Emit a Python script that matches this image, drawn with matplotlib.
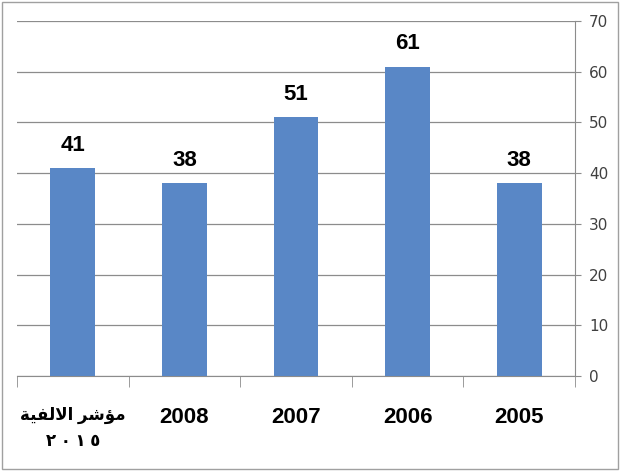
import matplotlib
import matplotlib.pyplot as plt
from matplotlib.patches import Rectangle

matplotlib.use("Agg")

# data
categories = ["ﺔﻴﻔﻟﻻﺍ ﺮﺷﺆﻣ\n٢ ٠ ١ ٥", "2008", "2007", "2006", "2005"]
values = [41, 38, 51, 61, 38]
yticks = [0, 10, 20, 30, 40, 50, 60, 70]

bar_color = "#5987c6"
grid_color = "#8c8c8c"
label_fonts = ["Liberation Sans", "DejaVu Sans"]
dpi = 100

fig = plt.figure(figsize=(620 / dpi, 471 / dpi), dpi=dpi)
ax = fig.add_axes([17 / 620, 1 - 376 / 471, (575 - 17) / 620, (376 - 21) / 471])

x = list(range(len(categories)))
bars = ax.bar(x, values, width=0.4, color=bar_color, zorder=3)

for rect, v in zip(bars, values):
    ax.annotate(str(v), (rect.get_x() + rect.get_width() / 2, v),
                xytext=(0, 9), textcoords="offset points",
                ha="center", va="bottom", fontsize=16, fontweight="bold",
                family=label_fonts, color="#000000")

# axes
ax.set_xlim(-0.5, len(categories) - 0.5)
ax.set_ylim(0, 70)
ax.yaxis.tick_right()
ax.set_yticks(yticks)
ax.set_yticklabels([str(t) for t in yticks], fontsize=11,
                   family=["DejaVu Sans"], color="#404040")
ax.tick_params(axis="y", direction="out", length=4, color=grid_color, pad=6)
ax.grid(axis="y", color=grid_color, linewidth=0.9, zorder=0)

ax.set_xticks(x)
ticklabels = ax.set_xticklabels(categories, fontsize=16, fontweight="bold",
                                family=label_fonts, linespacing=1.9)
ticklabels[0].set_fontsize(12)
ax.set_xticks([i - 0.5 for i in range(len(categories) + 1)], minor=True)
ax.tick_params(axis="x", which="major", length=0, pad=22)
ax.tick_params(axis="x", which="minor", length=8, color=grid_color)

for side in ["top", "left"]:
    ax.spines[side].set_visible(False)
for side in ["right", "bottom"]:
    ax.spines[side].set_color(grid_color)

# figure frame
fig.patches.append(Rectangle((2 / 620, 2 / 471), 616 / 620, 467 / 471,
                             transform=fig.transFigure, fill=False,
                             edgecolor="#a0a0a0", linewidth=1))

fig.savefig("out.png", dpi=dpi)
